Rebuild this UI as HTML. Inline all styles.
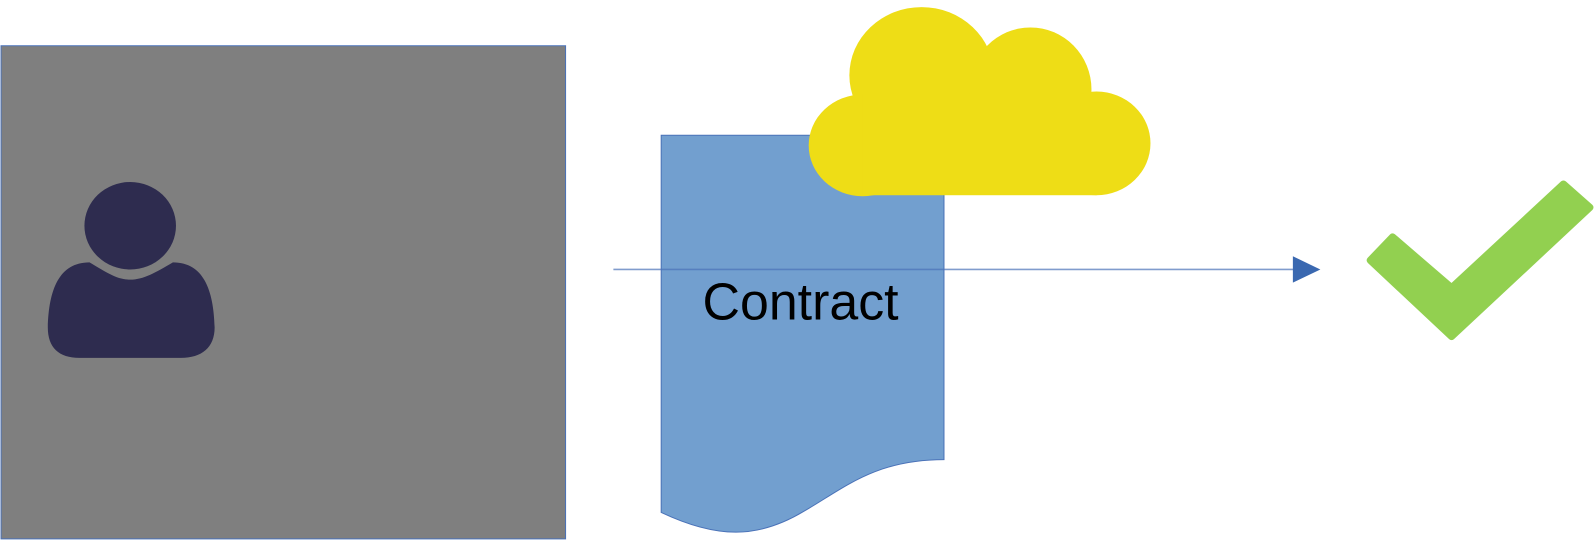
<!DOCTYPE html>
<html><head><meta charset="utf-8"><style>html,body{margin:0;padding:0;background:#fff;}svg{display:block}</style></head>
<body>
<svg width="1595" height="545" viewBox="0 0 1568 536" preserveAspectRatio="none" xmlns="http://www.w3.org/2000/svg">
<rect x="1" y="45" width="555" height="485" fill="#7f7f7f" stroke="#4a72b8" stroke-width="1"/>
<ellipse cx="128" cy="222" rx="45" ry="43" fill="#2e2c4f"/>
<path d="M88 258 C105 268 115 275 128 275 C141 275 153 268 170 258 C200 258 210 285 211 322 C211 342 198 352 178 352 H78 C58 352 47 342 47 322 C48 285 58 258 88 258 Z" fill="#2e2c4f"/>
<path d="M650 133 H928 V452 C860 452 830 480 790 503 C745 530 705 530 650 504 Z" fill="#729fcf" stroke="#4a72b8" stroke-width="1"/>
<g fill="#eedd16">
<ellipse cx="906" cy="74" rx="71" ry="67"/>
<ellipse cx="1013" cy="88" rx="60" ry="61"/>
<ellipse cx="848" cy="143" rx="53" ry="50"/>
<ellipse cx="1078" cy="141" rx="53" ry="51"/>
<rect x="848" y="92" width="230" height="100"/>
</g>
<line x1="603" y1="265" x2="1272" y2="265" stroke="#4a72b8" stroke-opacity="0.7" stroke-width="1.5"/>
<polygon points="1271,252 1298,265 1271,278" fill="#3a68b0"/>
<text x="787" y="314" font-family="Liberation Sans, sans-serif" font-size="51" text-anchor="middle" fill="#000">Contract</text>
<polygon points="1369,233 1427,283 1537,181 1563,204 1427,331 1347,256" fill="#92d050" stroke="#92d050" stroke-width="7" stroke-linejoin="round"/>
</svg>
</body></html>
